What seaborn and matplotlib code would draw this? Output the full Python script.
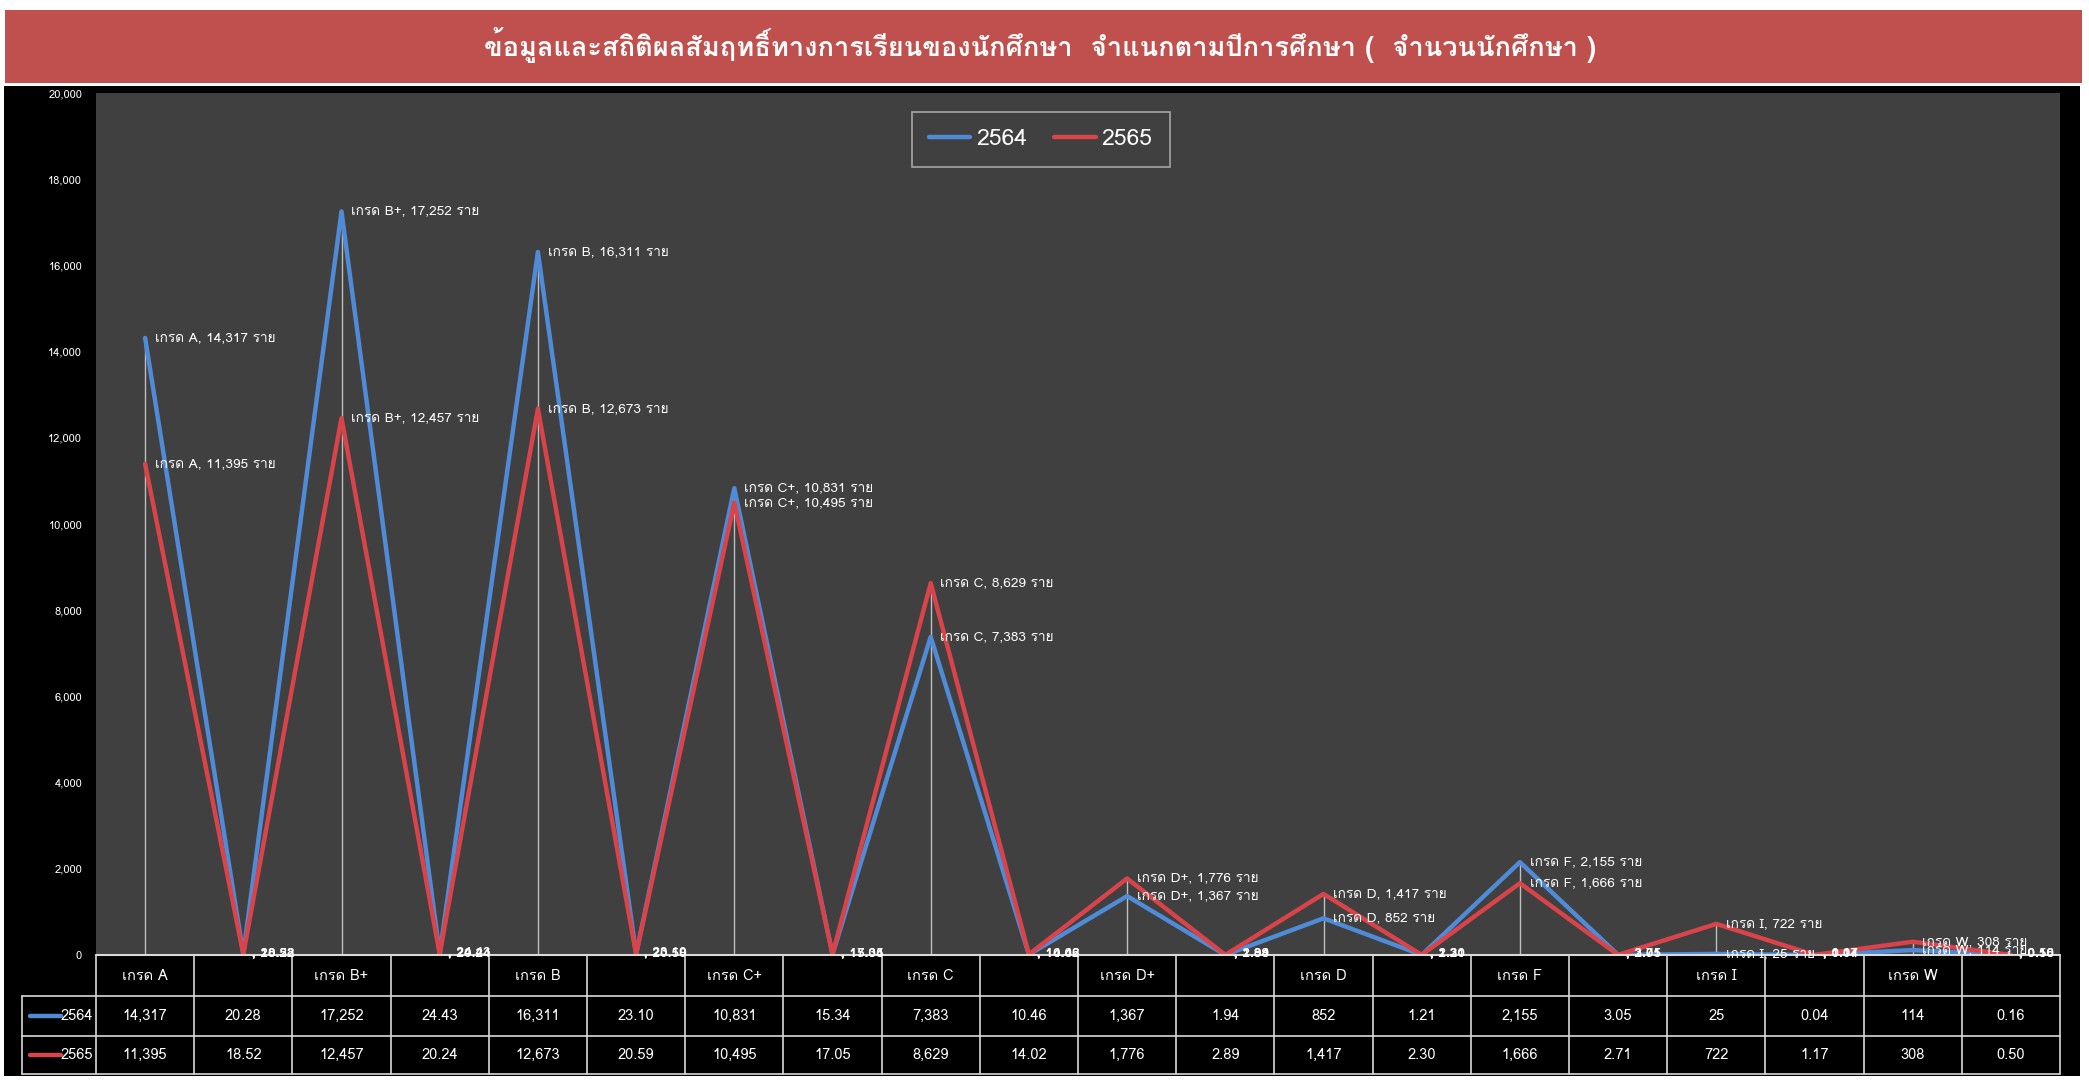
import matplotlib
matplotlib.use("Agg")
import matplotlib.pyplot as plt
import matplotlib.transforms as mtransforms
from matplotlib.patches import Rectangle
from matplotlib import font_manager
import seaborn as sns
import pandas as pd

# ---------------- data ----------------
grades = ['เกรด A', 'เกรด B+', 'เกรด B', 'เกรด C+', 'เกรด C',
          'เกรด D+', 'เกรด D', 'เกรด F', 'เกรด I', 'เกรด W']
count_2564 = [14317, 17252, 16311, 10831, 7383, 1367, 852, 2155, 25, 114]
pct_2564 = [20.28, 24.43, 23.10, 15.34, 10.46, 1.94, 1.21, 3.05, 0.04, 0.16]
count_2565 = [11395, 12457, 12673, 10495, 8629, 1776, 1417, 1666, 722, 308]
pct_2565 = [18.52, 20.24, 20.59, 17.05, 14.02, 2.89, 2.30, 2.71, 1.17, 0.50]
years = ['2564', '2565']
yticks = list(range(0, 20001, 2000))
title = 'ข้อมูลและสถิติผลสัมฤทธิ์ทางการเรียนของนักศึกษา  จำแนกตามปีการศึกษา (  จำนวนนักศึกษา )'

# ---------------- find a Thai-capable font ----------------
def find_thai_fonts():
    names = []
    try:
        from fontTools.ttLib import TTFont
    except Exception:
        return names
    for f in font_manager.fontManager.ttflist:
        try:
            kw = {}
            if f.fname.lower().endswith('.ttc'):
                kw['fontNumber'] = 0
            tt = TTFont(f.fname, lazy=True, **kw)
            cmap = tt.getBestCmap()
            if cmap and 0x0E01 in cmap and 0x0E40 in cmap and 0x0041 in cmap:
                if f.name not in names:
                    names.append(f.name)
        except Exception:
            pass
    return names

sns.set_theme(style='white')
thai = find_thai_fonts()
fam = (thai[:1] if thai else []) + ['DejaVu Sans']
plt.rcParams['font.family'] = fam

# ---------------- build long table ----------------
cats, v64, v65 = [], [], []
for g, c4, p4, c5, p5 in zip(grades, count_2564, pct_2564, count_2565, pct_2565):
    cats += [g, '']
    v64 += [c4, p4]
    v65 += [c5, p5]
n = len(cats)
pos = list(range(n))
df = pd.DataFrame({'pos': pos * 2, 'value': v64 + v65,
                   'year': [years[0]] * n + [years[1]] * n})

BLUE = '#4F8BD6'
RED = '#D9434A'
W, H = 2089, 1080
fig = plt.figure(figsize=(W / 100, H / 100), dpi=100, facecolor='white')

# banner + black background
fig.patches.append(Rectangle((5 / W, 1 - 83 / H), 2077 / W, 73 / H,
                             transform=fig.transFigure, facecolor='#C0504D',
                             edgecolor='none', zorder=-2))
fig.patches.append(Rectangle((4 / W, 1 - 1076 / H), 2076 / W, 990 / H,
                             transform=fig.transFigure, facecolor='black',
                             edgecolor='none', zorder=-2))
fig.text(1040 / W, 1 - 45 / H, title, ha='center', va='center', color='white',
         fontsize=19.6, fontweight='bold')

ax = fig.add_axes([96 / W, 1 - 955 / H, 1964 / W, 862 / H])
ax.set_zorder(1)
ax.set_facecolor('#404040')
sns.lineplot(data=df, x='pos', y='value', hue='year',
             palette={years[0]: BLUE, years[1]: RED}, linewidth=3.2,
             sort=False, ax=ax, zorder=3)
ax.set_xlim(-0.5, n - 0.5)
ax.set_ylim(0, 20000)
ax.set_yticks(yticks)
ax.set_yticklabels([f'{t:,}' for t in yticks])
ax.set_xticks([])
ax.set_xlabel('')
ax.set_ylabel('')
ax.tick_params(axis='y', colors='white', labelsize=8, length=0, pad=10)
for s in ax.spines.values():
    s.set_visible(False)

# drop lines at grade categories
for i in range(0, n, 2):
    ax.vlines(i, 0, max(v64[i], v65[i]), color='#bfbfbf', lw=1, zorder=2)

# data labels
for vals in (v64, v65):
    for i in range(n):
        if i % 2 == 0:
            txt = f'{cats[i]}, {vals[i]:,} ราย'
            off, fs, fw = (7, 0), 9.8, 'normal'
        else:
            txt = f', {vals[i]:.2f}'
            off, fs, fw = (6, 1), 9.8, 'bold'
        ax.annotate(txt, (pos[i], vals[i]), xytext=off,
                    textcoords='offset points', va='center', ha='left',
                    color='white', fontsize=fs, fontweight=fw, zorder=5,
                    annotation_clip=False)

# legend
leg = ax.legend(loc='upper center', bbox_to_anchor=(0.481, 0.978), ncol=2,
                fontsize=16.5, frameon=True, fancybox=False, handlelength=1.8,
                columnspacing=1.2, handletextpad=0.25, borderpad=0.75,
                borderaxespad=0)
leg.get_frame().set_facecolor('#404040')
leg.get_frame().set_edgecolor('#bfbfbf')
leg.get_frame().set_linewidth(1.2)
for t in leg.get_texts():
    t.set_color('white')

# data table below plot
tr = mtransforms.blended_transform_factory(ax.transData, ax.transAxes)
r0, r1, r2, r3 = 0.0, -0.0476, -0.094, -0.138
lc = '#d9d9d9'
ax.plot([-0.5, n - 0.5], [r0, r0], transform=tr, color=lc, lw=1.5, clip_on=False, zorder=4)
for yy in (r1, r2, r3):
    ax.plot([-1.25, n - 0.5], [yy, yy], transform=tr, color=lc, lw=1.2, clip_on=False)
for k in range(n + 1):
    ax.plot([k - 0.5, k - 0.5], [r0, r3], transform=tr, color=lc, lw=1.2, clip_on=False)
ax.plot([-1.25, -1.25], [r1, r3], transform=tr, color=lc, lw=1.2, clip_on=False)
tfs = 10.5
for i in range(n):
    ax.text(pos[i], (r0 + r1) / 2, cats[i], transform=tr, ha='center', va='center',
            color='white', fontsize=tfs)
    f4 = f'{v64[i]:,}' if i % 2 == 0 else f'{v64[i]:.2f}'
    f5 = f'{v65[i]:,}' if i % 2 == 0 else f'{v65[i]:.2f}'
    ax.text(pos[i], (r1 + r2) / 2, f4, transform=tr, ha='center', va='center',
            color='white', fontsize=tfs)
    ax.text(pos[i], (r2 + r3) / 2, f5, transform=tr, ha='center', va='center',
            color='white', fontsize=tfs)
for yr, col, y0, y1 in ((years[0], BLUE, r1, r2), (years[1], RED, r2, r3)):
    ym = (y0 + y1) / 2
    ax.plot([-1.17, -0.86], [ym, ym], transform=tr, color=col, lw=3.2, clip_on=False)
    ax.text(-0.53, ym, yr, transform=tr, ha='right', va='center', color='white',
            fontsize=tfs)

fig.savefig('out.png', dpi=100, facecolor='white')
